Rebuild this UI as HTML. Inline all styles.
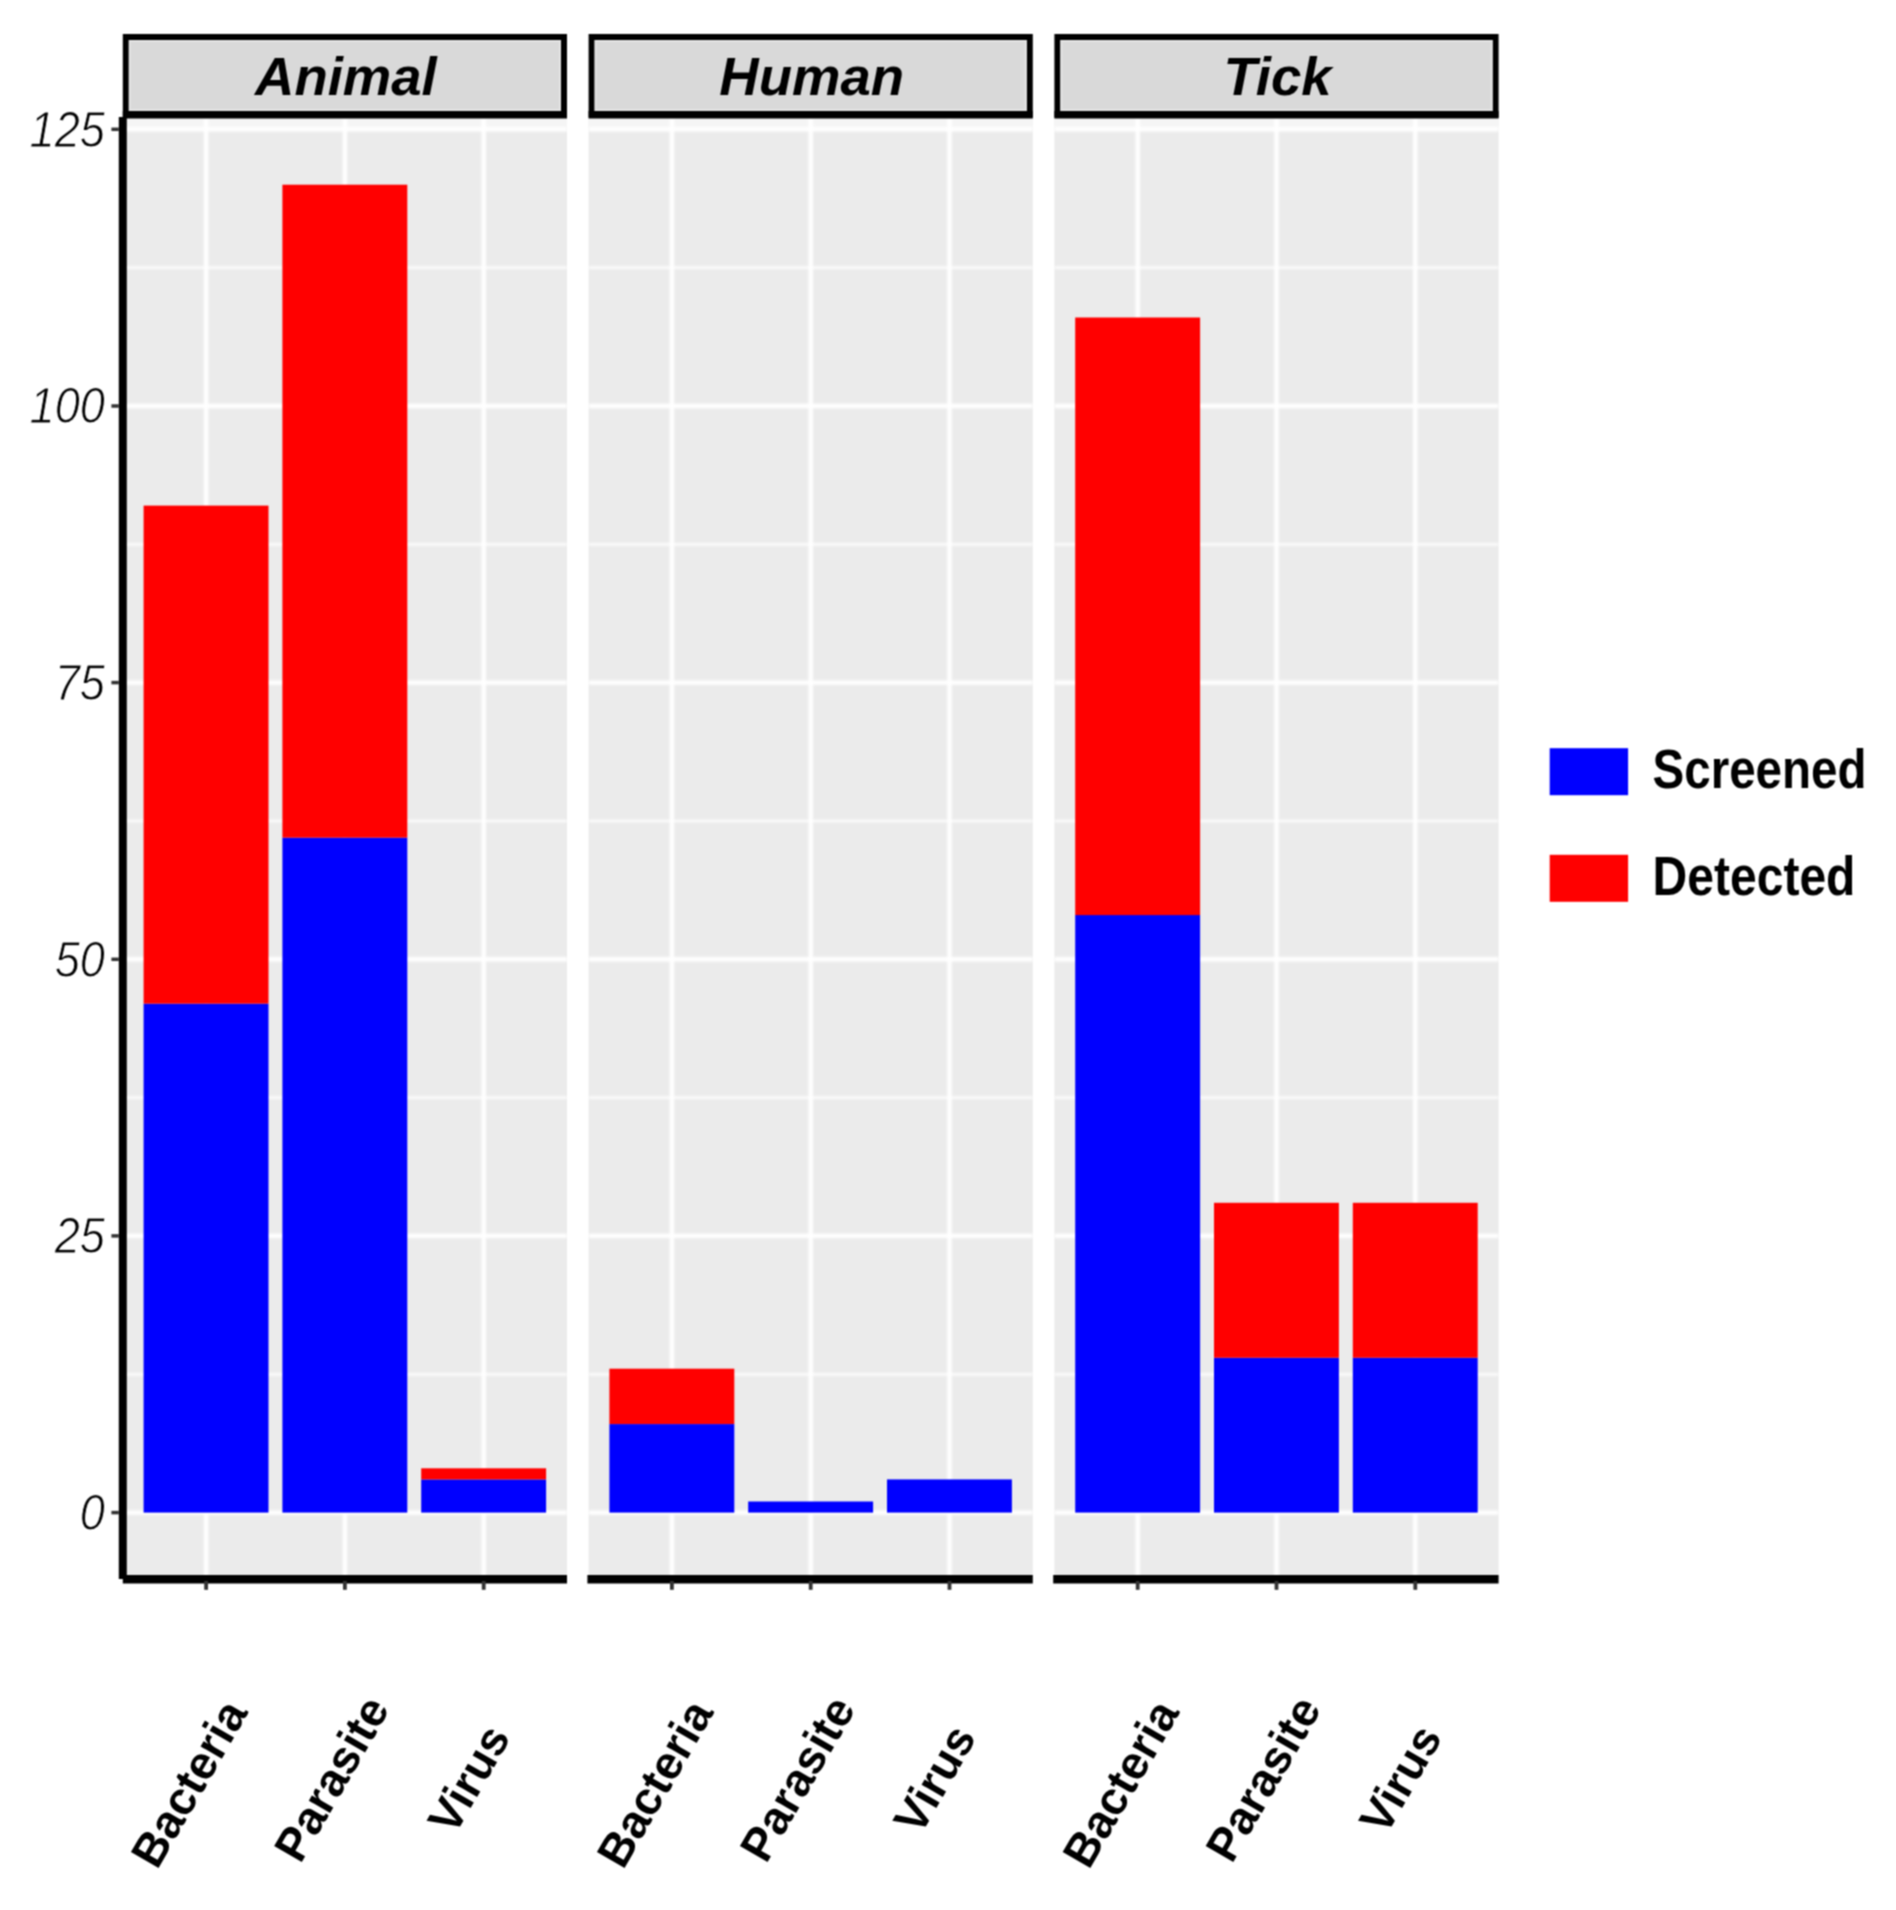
<!DOCTYPE html>
<html><head><meta charset="utf-8"><title>Chart</title>
<style>
html,body{margin:0;padding:0;background:#fff;}
body{width:1896px;height:1910px;overflow:hidden;}
svg{display:block;font-family:"Liberation Sans",sans-serif;}
.st{font-size:54.5px;font-weight:bold;font-style:italic;fill:#000;}
.yl{font-size:50.5px;font-style:italic;fill:#000;stroke:#fff;stroke-width:1px;}
.xl{font-size:46.4px;font-weight:bold;fill:#000;}
.lg{font-size:55.5px;font-weight:bold;fill:#000;}
</style></head><body>
<svg width="1896" height="1910" viewBox="0 0 1896 1910">
<defs><filter id="gb" x="-5%" y="-5%" width="110%" height="110%"><feGaussianBlur stdDeviation="1.1"/></filter><filter id="soft" x="0" y="0" width="100%" height="100%" color-interpolation-filters="sRGB"><feConvolveMatrix order="3" kernelMatrix="1 2 1 2 4 2 1 2 1" edgeMode="duplicate" preserveAlpha="true"/></filter></defs>
<g filter="url(#soft)">
<rect width="1896" height="1910" fill="#fff"/>
<g>
<rect x="122.8" y="118.4" width="444.2" height="1460.6" fill="#ebebeb"/>
<rect x="122.8" y="118.4" width="444.2" height="9.6" fill="#f5f5f5"/>
<g filter="url(#gb)">
<line x1="122.8" x2="567.0" y1="1374.3" y2="1374.3" stroke="#fff" stroke-width="2.2"/>
<line x1="122.8" x2="567.0" y1="1097.6" y2="1097.6" stroke="#fff" stroke-width="2.2"/>
<line x1="122.8" x2="567.0" y1="821.0" y2="821.0" stroke="#fff" stroke-width="2.2"/>
<line x1="122.8" x2="567.0" y1="544.3" y2="544.3" stroke="#fff" stroke-width="2.2"/>
<line x1="122.8" x2="567.0" y1="267.7" y2="267.7" stroke="#fff" stroke-width="2.2"/>
<line x1="122.8" x2="567.0" y1="1512.6" y2="1512.6" stroke="#fff" stroke-width="4.4"/>
<line x1="122.8" x2="567.0" y1="1235.9" y2="1235.9" stroke="#fff" stroke-width="4.4"/>
<line x1="122.8" x2="567.0" y1="959.3" y2="959.3" stroke="#fff" stroke-width="4.4"/>
<line x1="122.8" x2="567.0" y1="682.6" y2="682.6" stroke="#fff" stroke-width="4.4"/>
<line x1="122.8" x2="567.0" y1="406.0" y2="406.0" stroke="#fff" stroke-width="4.4"/>
<line x1="122.8" x2="567.0" y1="129.3" y2="129.3" stroke="#fff" stroke-width="4.4"/>
<line x1="206.1" x2="206.1" y1="118.4" y2="1579.0" stroke="#fff" stroke-width="4.4"/>
<line x1="344.9" x2="344.9" y1="118.4" y2="1579.0" stroke="#fff" stroke-width="4.4"/>
<line x1="483.7" x2="483.7" y1="118.4" y2="1579.0" stroke="#fff" stroke-width="4.4"/>
</g>
<rect x="143.6" y="1003.6" width="124.9" height="509.0" fill="#0000ff"/>
<rect x="143.6" y="505.6" width="124.9" height="498.0" fill="#ff0000"/>
<rect x="282.4" y="837.6" width="124.9" height="675.0" fill="#0000ff"/>
<rect x="282.4" y="184.7" width="124.9" height="652.9" fill="#ff0000"/>
<rect x="421.2" y="1479.4" width="124.9" height="33.2" fill="#0000ff"/>
<rect x="421.2" y="1468.3" width="124.9" height="11.1" fill="#ff0000"/>
<rect x="125.8" y="37" width="438.2" height="77.5" fill="#d9d9d9" stroke="#000" stroke-width="6"/>
<rect x="129.8" y="41" width="430.2" height="69" fill="none" stroke="#e4e4e4" stroke-width="2"/>
<line x1="122.8" x2="567.0" y1="114.8" y2="114.8" stroke="#000" stroke-width="7.6"/>
<text x="345.9" y="95" text-anchor="middle" class="st">Animal</text>
<line x1="122.8" x2="567.0" y1="1579.2" y2="1579.2" stroke="#000" stroke-width="8.4"/>
<line x1="206.1" x2="206.1" y1="1581.0" y2="1589.8" stroke="#333" stroke-width="3.8"/>
<text transform="translate(188.4,1783.2) rotate(-60)" text-anchor="middle" class="xl" dy="0.36em">Bacteria</text>
<line x1="344.9" x2="344.9" y1="1581.0" y2="1589.8" stroke="#333" stroke-width="3.8"/>
<text transform="translate(330.9,1778.3) rotate(-60)" text-anchor="middle" class="xl" dy="0.36em">Parasite</text>
<line x1="483.7" x2="483.7" y1="1581.0" y2="1589.8" stroke="#333" stroke-width="3.8"/>
<text transform="translate(468.2,1778.7) rotate(-60)" text-anchor="middle" class="xl" dy="0.36em">Virus</text>
</g>
<g>
<rect x="588.6" y="118.4" width="444.2" height="1460.6" fill="#ebebeb"/>
<rect x="588.6" y="118.4" width="444.2" height="9.6" fill="#f5f5f5"/>
<g filter="url(#gb)">
<line x1="588.6" x2="1032.8" y1="1374.3" y2="1374.3" stroke="#fff" stroke-width="2.2"/>
<line x1="588.6" x2="1032.8" y1="1097.6" y2="1097.6" stroke="#fff" stroke-width="2.2"/>
<line x1="588.6" x2="1032.8" y1="821.0" y2="821.0" stroke="#fff" stroke-width="2.2"/>
<line x1="588.6" x2="1032.8" y1="544.3" y2="544.3" stroke="#fff" stroke-width="2.2"/>
<line x1="588.6" x2="1032.8" y1="267.7" y2="267.7" stroke="#fff" stroke-width="2.2"/>
<line x1="588.6" x2="1032.8" y1="1512.6" y2="1512.6" stroke="#fff" stroke-width="4.4"/>
<line x1="588.6" x2="1032.8" y1="1235.9" y2="1235.9" stroke="#fff" stroke-width="4.4"/>
<line x1="588.6" x2="1032.8" y1="959.3" y2="959.3" stroke="#fff" stroke-width="4.4"/>
<line x1="588.6" x2="1032.8" y1="682.6" y2="682.6" stroke="#fff" stroke-width="4.4"/>
<line x1="588.6" x2="1032.8" y1="406.0" y2="406.0" stroke="#fff" stroke-width="4.4"/>
<line x1="588.6" x2="1032.8" y1="129.3" y2="129.3" stroke="#fff" stroke-width="4.4"/>
<line x1="671.9" x2="671.9" y1="118.4" y2="1579.0" stroke="#fff" stroke-width="4.4"/>
<line x1="810.7" x2="810.7" y1="118.4" y2="1579.0" stroke="#fff" stroke-width="4.4"/>
<line x1="949.5" x2="949.5" y1="118.4" y2="1579.0" stroke="#fff" stroke-width="4.4"/>
</g>
<rect x="609.4" y="1424.1" width="124.9" height="88.5" fill="#0000ff"/>
<rect x="609.4" y="1368.7" width="124.9" height="55.3" fill="#ff0000"/>
<rect x="748.2" y="1501.5" width="124.9" height="11.1" fill="#0000ff"/>
<rect x="887.0" y="1479.4" width="124.9" height="33.2" fill="#0000ff"/>
<rect x="591.6" y="37" width="438.2" height="77.5" fill="#d9d9d9" stroke="#000" stroke-width="6"/>
<rect x="595.6" y="41" width="430.2" height="69" fill="none" stroke="#e4e4e4" stroke-width="2"/>
<line x1="588.6" x2="1032.8" y1="114.8" y2="114.8" stroke="#000" stroke-width="7.6"/>
<text x="811.7" y="95" text-anchor="middle" class="st">Human</text>
<line x1="587.4" x2="1032.8" y1="1579.2" y2="1579.2" stroke="#000" stroke-width="8.4"/>
<line x1="671.9" x2="671.9" y1="1581.0" y2="1589.8" stroke="#333" stroke-width="3.8"/>
<text transform="translate(654.2,1783.2) rotate(-60)" text-anchor="middle" class="xl" dy="0.36em">Bacteria</text>
<line x1="810.7" x2="810.7" y1="1581.0" y2="1589.8" stroke="#333" stroke-width="3.8"/>
<text transform="translate(796.7,1778.3) rotate(-60)" text-anchor="middle" class="xl" dy="0.36em">Parasite</text>
<line x1="949.5" x2="949.5" y1="1581.0" y2="1589.8" stroke="#333" stroke-width="3.8"/>
<text transform="translate(934.0,1778.7) rotate(-60)" text-anchor="middle" class="xl" dy="0.36em">Virus</text>
</g>
<g>
<rect x="1054.4" y="118.4" width="444.2" height="1460.6" fill="#ebebeb"/>
<rect x="1054.4" y="118.4" width="444.2" height="9.6" fill="#f5f5f5"/>
<g filter="url(#gb)">
<line x1="1054.4" x2="1498.6" y1="1374.3" y2="1374.3" stroke="#fff" stroke-width="2.2"/>
<line x1="1054.4" x2="1498.6" y1="1097.6" y2="1097.6" stroke="#fff" stroke-width="2.2"/>
<line x1="1054.4" x2="1498.6" y1="821.0" y2="821.0" stroke="#fff" stroke-width="2.2"/>
<line x1="1054.4" x2="1498.6" y1="544.3" y2="544.3" stroke="#fff" stroke-width="2.2"/>
<line x1="1054.4" x2="1498.6" y1="267.7" y2="267.7" stroke="#fff" stroke-width="2.2"/>
<line x1="1054.4" x2="1498.6" y1="1512.6" y2="1512.6" stroke="#fff" stroke-width="4.4"/>
<line x1="1054.4" x2="1498.6" y1="1235.9" y2="1235.9" stroke="#fff" stroke-width="4.4"/>
<line x1="1054.4" x2="1498.6" y1="959.3" y2="959.3" stroke="#fff" stroke-width="4.4"/>
<line x1="1054.4" x2="1498.6" y1="682.6" y2="682.6" stroke="#fff" stroke-width="4.4"/>
<line x1="1054.4" x2="1498.6" y1="406.0" y2="406.0" stroke="#fff" stroke-width="4.4"/>
<line x1="1054.4" x2="1498.6" y1="129.3" y2="129.3" stroke="#fff" stroke-width="4.4"/>
<line x1="1137.7" x2="1137.7" y1="118.4" y2="1579.0" stroke="#fff" stroke-width="4.4"/>
<line x1="1276.5" x2="1276.5" y1="118.4" y2="1579.0" stroke="#fff" stroke-width="4.4"/>
<line x1="1415.3" x2="1415.3" y1="118.4" y2="1579.0" stroke="#fff" stroke-width="4.4"/>
</g>
<rect x="1075.2" y="915.0" width="124.9" height="597.6" fill="#0000ff"/>
<rect x="1075.2" y="317.5" width="124.9" height="597.6" fill="#ff0000"/>
<rect x="1214.0" y="1357.7" width="124.9" height="154.9" fill="#0000ff"/>
<rect x="1214.0" y="1202.8" width="124.9" height="154.9" fill="#ff0000"/>
<rect x="1352.8" y="1357.7" width="124.9" height="154.9" fill="#0000ff"/>
<rect x="1352.8" y="1202.8" width="124.9" height="154.9" fill="#ff0000"/>
<rect x="1057.4" y="37" width="438.2" height="77.5" fill="#d9d9d9" stroke="#000" stroke-width="6"/>
<rect x="1061.4" y="41" width="430.2" height="69" fill="none" stroke="#e4e4e4" stroke-width="2"/>
<line x1="1054.4" x2="1498.6" y1="114.8" y2="114.8" stroke="#000" stroke-width="7.6"/>
<text x="1277.5" y="95" text-anchor="middle" class="st">Tick</text>
<line x1="1053.2" x2="1498.6" y1="1579.2" y2="1579.2" stroke="#000" stroke-width="8.4"/>
<line x1="1137.7" x2="1137.7" y1="1581.0" y2="1589.8" stroke="#333" stroke-width="3.8"/>
<text transform="translate(1120.0,1783.2) rotate(-60)" text-anchor="middle" class="xl" dy="0.36em">Bacteria</text>
<line x1="1276.5" x2="1276.5" y1="1581.0" y2="1589.8" stroke="#333" stroke-width="3.8"/>
<text transform="translate(1262.5,1778.3) rotate(-60)" text-anchor="middle" class="xl" dy="0.36em">Parasite</text>
<line x1="1415.3" x2="1415.3" y1="1581.0" y2="1589.8" stroke="#333" stroke-width="3.8"/>
<text transform="translate(1399.8,1778.7) rotate(-60)" text-anchor="middle" class="xl" dy="0.36em">Virus</text>
</g>
<line x1="122.8" x2="122.8" y1="117" y2="1579.0" stroke="#000" stroke-width="8"/>
<line x1="111.4" x2="118.8" y1="1512.6" y2="1512.6" stroke="#333" stroke-width="3.5"/>
<text transform="translate(105,1511.9) scale(0.895,1)" text-anchor="end" class="yl" dy="0.358em">0</text>
<line x1="111.4" x2="118.8" y1="1235.9" y2="1235.9" stroke="#333" stroke-width="3.5"/>
<text transform="translate(105,1235.2) scale(0.895,1)" text-anchor="end" class="yl" dy="0.358em">25</text>
<line x1="111.4" x2="118.8" y1="959.3" y2="959.3" stroke="#333" stroke-width="3.5"/>
<text transform="translate(105,958.6) scale(0.895,1)" text-anchor="end" class="yl" dy="0.358em">50</text>
<line x1="111.4" x2="118.8" y1="682.6" y2="682.6" stroke="#333" stroke-width="3.5"/>
<text transform="translate(105,681.9) scale(0.895,1)" text-anchor="end" class="yl" dy="0.358em">75</text>
<line x1="111.4" x2="118.8" y1="406.0" y2="406.0" stroke="#333" stroke-width="3.5"/>
<text transform="translate(105,405.3) scale(0.895,1)" text-anchor="end" class="yl" dy="0.358em">100</text>
<line x1="111.4" x2="118.8" y1="129.3" y2="129.3" stroke="#333" stroke-width="3.5"/>
<text transform="translate(105,128.6) scale(0.895,1)" text-anchor="end" class="yl" dy="0.358em">125</text>
<rect x="1549.7" y="748.2" width="78.4" height="47" fill="#0000ff"/>
<rect x="1549.7" y="854.8" width="78.4" height="47" fill="#ff0000"/>
<text transform="translate(1652.5,788.3) scale(0.857,1)" class="lg">Screened</text>
<text transform="translate(1652.5,894.6) scale(0.866,1)" class="lg">Detected</text>
</g>
</svg>
</body></html>
